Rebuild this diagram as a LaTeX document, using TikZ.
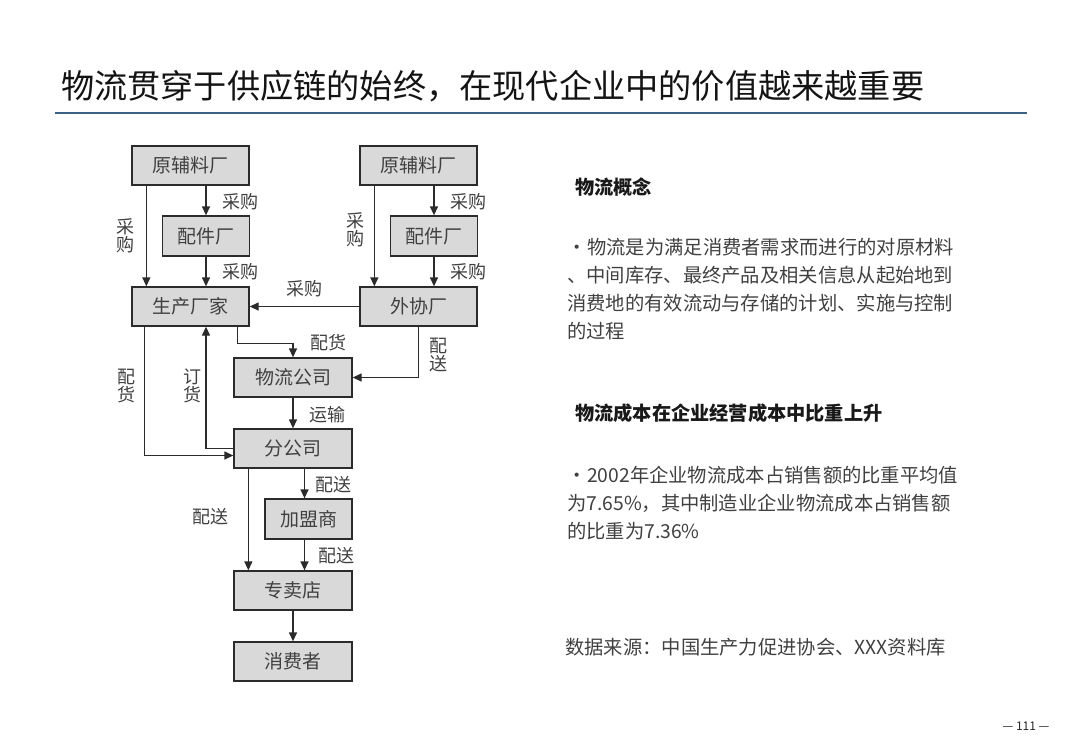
\documentclass[tikz,border=0pt]{standalone}
\usepackage{fontspec}
\setmainfont{Noto Sans CJK SC}
\usetikzlibrary{arrows.meta,calc}
\definecolor{boxfill}{HTML}{D9D9D9}
\definecolor{boxline}{HTML}{2B2B2B}
\definecolor{txt}{HTML}{404040}
\definecolor{rule}{HTML}{3A6186}
\tikzset{
  box/.style={draw=boxline,fill=boxfill,line width=1.3pt,inner sep=0pt,text=txt,
    font=\fontsize{19}{19}\selectfont},
  wide/.style={box,minimum width=117pt,minimum height=39pt},
  narrow/.style={box,minimum width=87pt,minimum height=40pt},
  arr/.style={draw=boxline,line width=1.3pt,-{Triangle[length=9pt,width=8pt]}},
  lbl/.style={text=txt,inner sep=0pt,align=center,font=\fontsize{18}{18}\selectfont},
  body/.style={text=txt,inner sep=0pt,anchor=base west,font=\fontsize{19.3}{19.3}\selectfont},
  head/.style={text=black!90,inner sep=0pt,anchor=base west,font=\fontsize{19.2}{19.2}\selectfont\bfseries},
}
\begin{document}
\begin{tikzpicture}[x=1pt,y=-1pt]
\useasboundingbox (0,0) rectangle (1080,748);
% title
\node[anchor=base west,inner sep=0pt,font=\fontsize{33.2}{33.2}\selectfont,text=black!92] (title) at (61,98) {物流贯穿于供应链的始终，在现代企业中的价值越来越重要};
\draw[rule,line width=1.4pt] (55,113) -- (1027,113);

% boxes
\node[wide] (ylL) at (190.5,165.5) {原辅料厂};
\node[wide] (ylR) at (418.5,165.5) {原辅料厂};
\node[narrow] (pjL) at (206,236) {配件厂};
\node[narrow] (pjR) at (434,236) {配件厂};
\node[wide] (sc) at (190.5,306.5) {生产厂家};
\node[wide] (wx) at (418.5,306.5) {外协厂};
\node[wide,minimum width=118pt] (wl) at (293,377.5) {物流公司};
\node[wide,minimum width=118pt] (fg) at (293,448.5) {分公司};
\node[narrow] (jm) at (308.5,519) {加盟商};
\node[wide,minimum width=118pt] (zmd) at (293,590.5) {专卖店};
\node[wide,minimum width=118pt] (xf) at (293,661.5) {消费者};

% connectors
\draw[arr] ([xshift=15]ylL.south west) -- ([xshift=15]sc.north west);
\draw[arr] (pjL |- ylL.south) -- (pjL.north);
\draw[arr] (pjL.south) -- (pjL |- sc.north);
\draw[arr] ([xshift=15]ylR.south west) -- ([xshift=15]wx.north west);
\draw[arr] (pjR |- ylR.south) -- (pjR.north);
\draw[arr] (pjR.south) -- (pjR |- wx.north);
\draw[arr] (wx.west) -- (sc.east);
\draw[arr] ([xshift=-12]sc.south east) -- ++(0,17) -| (wl.north);
\draw[arr] (wx.south) |- (wl.east);
\draw[arr] ([xshift=13]sc.south west) |- ([yshift=-7]fg.west);
\draw[arr] (fg.west) -| (pjL |- sc.south);
\draw[arr] (wl.south) -- (fg.north);
\draw[arr] ($(fg.south -| jm.north)+(-4,0)$) -- ($(jm.north)+(-4,0)$);
\draw[arr] ([xshift=15]fg.south west) -- ([xshift=15]zmd.north west);
\draw[arr] ($(jm.south)+(-4,0)$) -- ($(zmd.north -| jm.south)+(-4,0)$);
\draw[arr] (zmd.south) -- (xf.north);

% connector labels
\node[lbl] (l1) at (125,236) {采\\购};
\node[lbl] (l2) at (240,202) {采购};
\node[lbl] (l3) at (240,272) {采购};
\node[lbl] (l4) at (355,230) {采\\购};
\node[lbl] (l5) at (468,202) {采购};
\node[lbl] (l6) at (468,272) {采购};
\node[lbl] (l7) at (304,289) {采购};
\node[lbl] (l8) at (328,343) {配货};
\node[lbl] (l9) at (438,355) {配\\送};
\node[lbl] (l10) at (126,386) {配\\货};
\node[lbl] (l11) at (192.5,386) {订\\货};
\node[lbl] (l12) at (327,415) {运输};
\node[lbl] (l13) at (333,485) {配送};
\node[lbl] (l14) at (210,517) {配送};
\node[lbl] (l15) at (336,556) {配送};

% right column
\node[head] (h1) at (575,194) {物流概念};
\node[body] (b0) at (567,254) {•};
\node[body] (t1) at (587,254) {物流是为满足消费者需求而进行的对原材料};
\node[body] (t2) at (567,282) {、中间库存、最终产品及相关信息从起始地到};
\node[body] (t3) at (567,310) {消费地的有效流动与存储的计划、实施与控制};
\node[body] (t4) at (567,338) {的过程};

\node[head] (h2) at (575,420) {物流成本在企业经营成本中比重上升};
\node[body] (b1) at (567,482) {•};
\node[body] (u1) at (587,482) {2002年企业物流成本占销售额的比重平均值};
\node[body] (u2) at (567,510) {为7.65\%，其中制造业企业物流成本占销售额};
\node[body] (u3) at (567,538) {的比重为7.36\%};

\node[body] (src) at (565,654) {数据来源：中国生产力促进协会、XXX资料库};

\node[anchor=base,inner sep=0pt,text=black!85,font=\fontsize{12}{12}\selectfont] (pg) at (1026,730) {— 111 —};
\end{tikzpicture}
\end{document}
